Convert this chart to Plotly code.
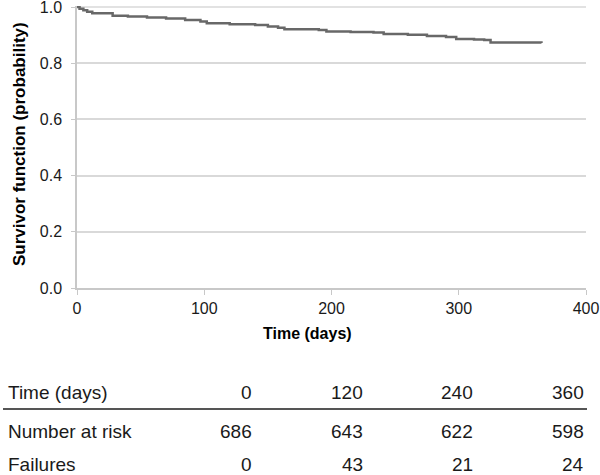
import plotly.graph_objects as go

# Kaplan-Meier survivor function
time_days = [0, 2, 5, 8, 12, 28, 40, 55, 70, 85, 97, 102, 120, 140, 150, 158, 163,
             190, 196, 215, 233, 241, 260, 275, 290, 298, 312, 320, 325, 365]
survival = [1.0, 0.994, 0.988, 0.983, 0.978, 0.969, 0.966, 0.963, 0.959, 0.954, 0.948,
            0.942, 0.939, 0.936, 0.931, 0.926, 0.921, 0.918, 0.913, 0.911, 0.909, 0.904,
            0.901, 0.897, 0.893, 0.886, 0.884, 0.883, 0.874, 0.872]

# Risk table
table_times = [0, 120, 240, 360]
at_risk = [686, 643, 622, 598]
failures = [0, 43, 21, 24]
row_labels = ["Time (days)", "Number at risk", "Failures"]

FONT = "Liberation Sans, Arial, sans-serif"
W, H = 600, 475
L, R, T, B = 77, 14, 6, 187
PW = W - L - R
PH = H - T - B
YTOP = 1 + 1 / (PH - 1)


def px_x(px):
    return (px - L) / PW


def px_y(py):
    return (H - B - py) / PH


fig = go.Figure()
fig.add_trace(go.Scatter(
    x=time_days, y=survival, mode="lines", line=dict(color="#686868", width=2.5, shape="hv"),
    cliponaxis=False, showlegend=False, hoverinfo="x+y",
))

fig.update_layout(
    width=W, height=H,
    margin=dict(l=L, r=R, t=T, b=B),
    paper_bgcolor="white", plot_bgcolor="white",
    font=dict(family=FONT, size=16, color="#1a1a1a"),
    xaxis=dict(range=[0, 400], tickvals=[0, 100, 200, 300, 400], showgrid=False,
               showline=True, linecolor="#c8c8c8", linewidth=1.5, ticks="outside",
               ticklen=5, tickcolor="#c8c8c8", zeroline=False, automargin=False,
               tickfont=dict(size=16, color="#1a1a1a")),
    yaxis=dict(range=[0, YTOP], tickvals=[0, 0.2, 0.4, 0.6, 0.8, 1.0], tickformat=".1f",
               showgrid=True, gridcolor="#d9d9d9", gridwidth=1.5, showline=True,
               linecolor="#c8c8c8", linewidth=1.5, ticks="outside", ticklen=4,
               tickcolor="#c8c8c8", zeroline=False, ticklabelstandoff=6,
               ticklabeloverflow="allow", automargin=False,
               tickfont=dict(size=16, color="#1a1a1a")),
)

# gridline at 1.0 (plotly drops the gridline at the range edge)
fig.add_shape(type="line", xref="paper", yref="y", x0=0, x1=1, y0=1.0, y1=1.0,
              layer="below", line=dict(color="#d9d9d9", width=1.5))

ann = []
# axis titles
ann.append(dict(text="<b>Time (days)</b>", xref="paper", yref="paper", x=px_x(307), y=px_y(333),
                xanchor="center", yanchor="middle", showarrow=False, font=dict(size=16, color="#000")))
ann.append(dict(text="<b>Survivor function (probability)</b>", xref="paper", yref="paper",
                x=px_x(19), y=px_y(144), xanchor="center", yanchor="middle", textangle=-90,
                showarrow=False, font=dict(size=17, color="#000")))

row_y = [392, 432, 464]
col_x = [251, 362, 472, 583]
rows = [table_times, at_risk, failures]
for lab, ry, vals in zip(row_labels, row_y, rows):
    ann.append(dict(text=lab, xref="paper", yref="paper", x=px_x(6), y=px_y(ry),
                    xanchor="left", yanchor="middle", showarrow=False,
                    font=dict(size=19, color="#1a1a1a")))
    for cx, v in zip(col_x, vals):
        ann.append(dict(text=str(v), xref="paper", yref="paper", x=px_x(cx + 3), y=px_y(ry),
                        xanchor="right", yanchor="middle", showarrow=False,
                        font=dict(size=19, color="#1a1a1a")))
fig.update_layout(annotations=ann)

fig.add_shape(type="line", xref="paper", yref="paper", x0=px_x(3), x1=px_x(587),
              y0=px_y(409), y1=px_y(409), line=dict(color="#555555", width=2))

fig.write_html("out.html", config={"displayModeBar": False},
               post_script="document.body.style.margin='0';document.body.style.overflow='hidden';")
